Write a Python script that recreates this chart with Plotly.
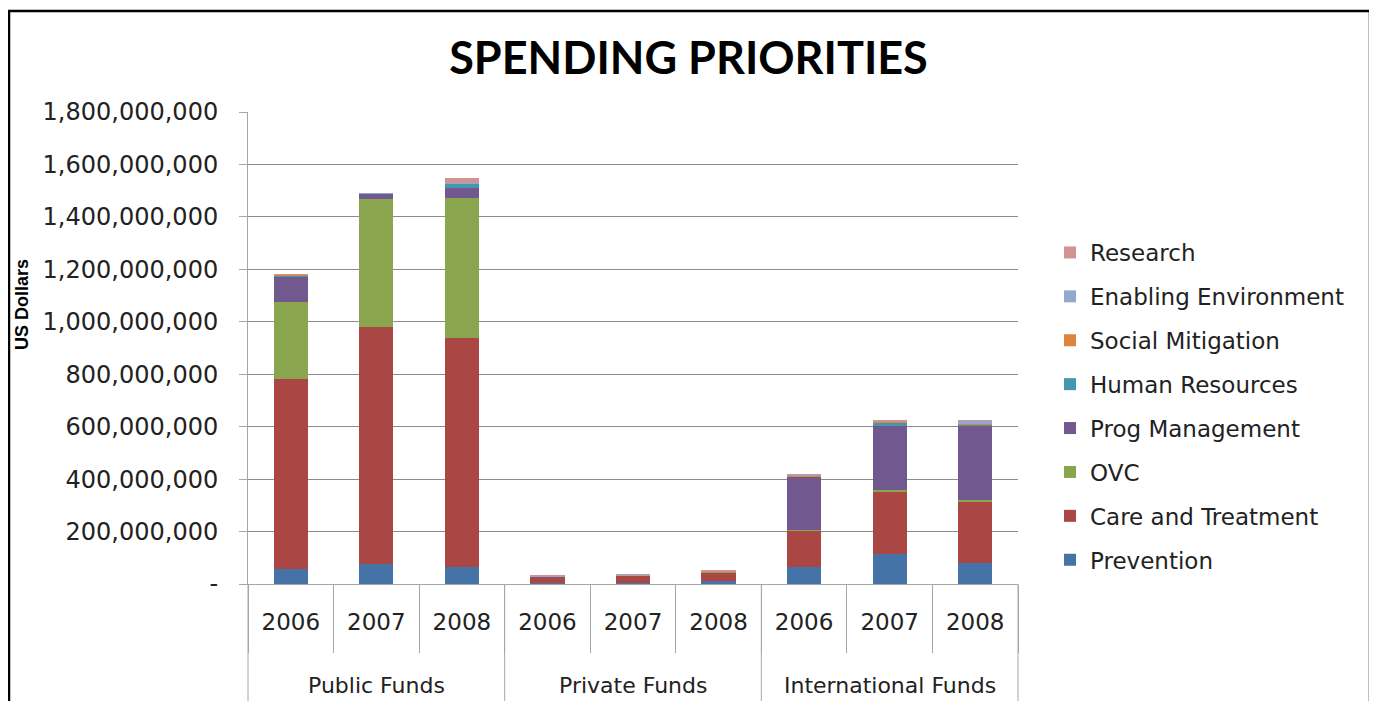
import plotly.graph_objects as go

groups = ["Public Funds"] * 3 + ["Private Funds"] * 3 + ["International Funds"] * 3
years = ["2006", "2007", "2008"] * 3
group_names = ["Public Funds", "Private Funds", "International Funds"]
categories = [f"{g} {y}" for g, y in zip(groups, years)]

# values in US dollars (millions)
prevention = [56, 76, 66, 5, 5, 11, 66, 115, 81]
care_treatment = [727, 905, 874, 25, 29, 34, 138, 238, 233]
ovc = [294, 488, 533, 0, 0, 3, 3, 6, 6]
prog_management = [94, 21, 38, 0, 0, 0, 203, 242, 286]
human_resources = [7, 0, 15, 0, 0, 0, 1, 13, 2]
social_mitigation = [1, 0, 2, 0, 0, 0, 4, 5, 3]
enabling_environment = [1, 1, 3, 3, 3, 1, 1, 2, 12]
research = [2, 0, 18, 1, 1, 1, 2, 6, 2]

series = [
    ("Prevention", prevention, "#4572A7"),
    ("Care and Treatment", care_treatment, "#AA4643"),
    ("OVC", ovc, "#89A54E"),
    ("Prog Management", prog_management, "#71588F"),
    ("Human Resources", human_resources, "#4198AF"),
    ("Social Mitigation", social_mitigation, "#DB843D"),
    ("Enabling Environment", enabling_environment, "#93A9CF"),
    ("Research", research, "#D19392"),
]

y_ticks = [0, 200e6, 400e6, 600e6, 800e6, 1000e6, 1200e6, 1400e6, 1600e6, 1800e6]
y_tick_text = ["-"] + [f"{int(v):,}" for v in y_ticks[1:]]

fig = go.Figure()
n = len(series)
for i, (name, vals, color) in enumerate(series):
    fig.add_trace(go.Bar(
        x=categories,
        y=[v * 1e6 for v in vals],
        name=name,
        marker=dict(color=color, line=dict(width=0)),
        legendgroup=name,
        legendrank=n - i,
    ))

OFF = 8  # page body margin
W, H = 1361, 693
L, T = 248 - OFF, 112 - OFF
R = W - (1018 - OFF)
B = H - (584 - OFF)
pw, ph = W - L - R, H - T - B

def px_x(p):
    return (p - OFF - L) / pw

def px_y(p):
    return (H - B - (p - OFF)) / ph

GRAY = "#a6a6a6"

fig.update_layout(
    width=W, height=H,
    barmode="stack",
    bargap=0.6,
    paper_bgcolor="white",
    plot_bgcolor="white",
    margin=dict(l=L, r=R, t=T, b=B, autoexpand=False),
    title=dict(text="<b>SPENDING PRIORITIES</b>", x=0.5, xanchor="center",
               y=1 - (58 - OFF) / H, yanchor="middle",
               font=dict(family="Lato", size=45, color="#000")),
    legend=dict(traceorder="grouped", x=px_x(1050), xanchor="left",
                y=px_y(253 - 22), yanchor="top", tracegroupgap=11,
                font=dict(family="DejaVu Sans", size=23, color="#222"),
                bgcolor="rgba(0,0,0,0)", itemwidth=30),
    showlegend=True,
    xaxis=dict(type="category", tickvals=categories, ticktext=years,
               ticks="outside", tickson="boundaries",
               ticklen=68, tickcolor=GRAY, showline=True, linecolor=GRAY,
               tickfont=dict(family="DejaVu Sans", size=23, color="#222"),
               ticklabelstandoff=17,
               showgrid=False),
    yaxis=dict(range=[0, 1800e6], tickvals=y_ticks, ticktext=y_tick_text,
               showgrid=True, gridcolor="#8c8c8c", gridwidth=1,
               showline=True, linecolor=GRAY, ticks="outside",
               ticklen=8, tickcolor=GRAY, ticklabelstandoff=16,
               tickfont=dict(family="DejaVu Sans", size=24, color="#222"),
               zeroline=False),
)

# group labels
for i, g in enumerate(group_names):
    fig.add_annotation(text=g, xref="paper", yref="paper",
                       x=(i * 3 + 1.5) / 9, y=px_y(685), showarrow=False,
                       xanchor="center", yanchor="middle",
                       font=dict(family="DejaVu Sans", size=22, color="#222"))

# group dividers
for i in range(4):
    fig.add_shape(type="line", xref="paper", yref="paper",
                  x0=i / 3, x1=i / 3, y0=0, y1=px_y(720),
                  line=dict(color=GRAY, width=1))

fig.add_annotation(text="<b>US Dollars</b>", textangle=-90, xref="paper", yref="paper",
                   x=px_x(22), y=px_y(305), showarrow=False,
                   xanchor="center", yanchor="middle",
                   font=dict(family="Liberation Sans Narrow, Liberation Sans", size=18, color="#000"))

fig.add_shape(type="rect", xref="paper", yref="paper",
              x0=px_x(9), x1=px_x(1370), y0=px_y(730), y1=px_y(11),
              line=dict(color="#000", width=2.5), fillcolor="rgba(0,0,0,0)", layer="above")

fig.write_html("out.html")
